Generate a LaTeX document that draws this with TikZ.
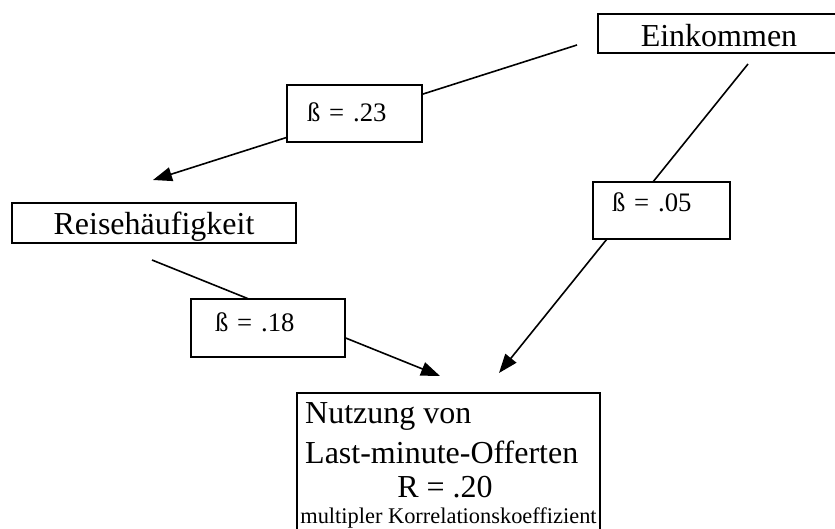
\documentclass[tikz,border=0pt]{standalone}
\usepackage{fontspec}
\setmainfont{Liberation Serif}
\usetikzlibrary{arrows.meta}
\pgfdeclarelayer{bg}
\pgfsetlayers{bg,main}
\tikzset{
  varbox/.style={draw=black, line width=2bp, fill=white, rectangle, inner sep=0pt,
    font=\fontsize{32bp}{37bp}\selectfont},
  betabox/.style={draw=black, line width=2bp, fill=white, rectangle, inner ysep=0pt,
    align=left, font=\fontsize{26.7bp}{30bp}\selectfont},
  bigtext/.style={inner sep=0pt, font=\fontsize{32bp}{37bp}\selectfont},
  smalltext/.style={inner sep=0pt, font=\fontsize{22.4bp}{26bp}\selectfont},
  effect/.style={line width=1.6bp, -{Triangle[length=19bp,width=14bp]}}
}
\begin{document}
\begin{tikzpicture}[x=1bp,y=-1bp]
\useasboundingbox (0,0) rectangle (835,529);
% variable boxes
\node[varbox, minimum width=242bp, minimum height=39bp, text height=29bp, text depth=2bp]
  (ein) at (719,33.5) {Einkommen};
\node[varbox, minimum width=284bp, minimum height=40bp, text height=26bp, text depth=2bp]
  (reise) at (154,223) {Reisehäufigkeit};
\node[varbox, minimum width=303bp, minimum height=150bp] (nutz) at (448.5,468) {};
\node[bigtext, anchor=base west] (n1) at (305,423) {Nutzung von};
\node[bigtext, anchor=base west] (n2) at (305,463) {Last-minute-Offerten};
\node[bigtext, anchor=base] (n3) at (445,497) {R = .20};
\node[smalltext, anchor=base] (n4) at (448.5,523) {multipler Korrelationskoeffizient};
% beta boxes
\node[betabox, text width=95bp, inner xsep=20bp, minimum height=57bp, text height=18bp, text depth=1.6bp]
  (b1) at (354.5,113.5) {ß = .23};
\node[betabox, text width=106bp, inner xsep=24bp, minimum height=58bp, text height=18bp, text depth=10bp]
  (b2) at (268,328) {ß = .18};
\node[betabox, text width=99bp, inner xsep=19bp, minimum height=57bp, text height=18bp, text depth=15.6bp]
  (b3) at (661.5,210.5) {ß = .05};
% connector ends
\coordinate (s1) at (577,45);
\coordinate (t1) at (153,180);
\coordinate (s2) at (748,64);
\coordinate (t2) at (499,373);
\coordinate (s3) at (152,260);
\coordinate (t3) at (440,376);
\begin{pgfonlayer}{bg}
\draw[effect] (s1) -- (t1);
\draw[effect] (s2) -- (t2);
\draw[effect] (s3) -- (t3);
\end{pgfonlayer}
\end{tikzpicture}
\end{document}
